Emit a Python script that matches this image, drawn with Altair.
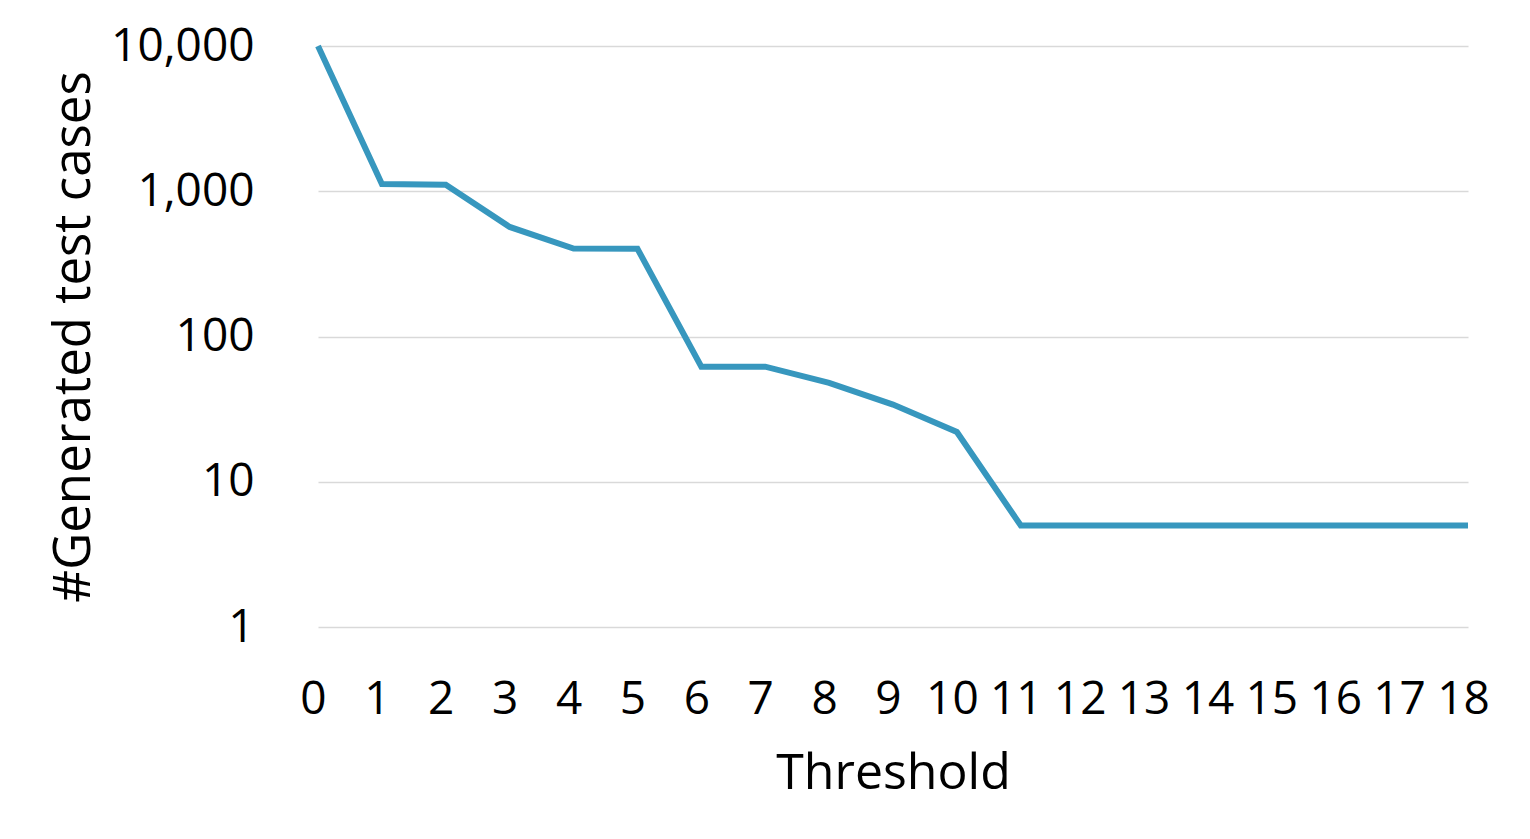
import altair as alt
import pandas as pd

thresholds = list(range(19))
test_cases = [10000, 1120, 1110, 568, 403, 402, 62, 62, 48, 34, 22, 5, 5, 5, 5, 5, 5, 5, 5]
y_ticks = [1, 10, 100, 1000, 10000]

df = pd.DataFrame({"Threshold": thresholds, "Cases": test_cases})

FONT = "Open Sans"

chart = alt.Chart(df).mark_line(color="#3797BE", strokeWidth=6, strokeJoin="miter", clip=False).encode(
    x=alt.X("Threshold:Q",
            scale=alt.Scale(domain=[0, 18], nice=False, zero=False),
            axis=alt.Axis(values=thresholds, title="Threshold", grid=False, domain=False, ticks=False,
                          labelFontSize=46, labelPadding=50, labelOffset=-5, titleFontSize=50, titlePadding=26,
                          labelFont=FONT, titleFont=FONT, titleFontWeight="normal",
                          labelColor="#000000", titleColor="#000000", labelFlush=False)),
    y=alt.Y("Cases:Q",
            scale=alt.Scale(type="log", domain=[1, 10000], nice=False),
            axis=alt.Axis(values=y_ticks, format=",", title="#Generated test cases",
                          grid=True, gridColor="#d9d9d9", gridWidth=1.5, domain=False, ticks=False,
                          labelFontSize=46, labelPadding=64, titleFontSize=51, titlePadding=18,
                          labelFont=FONT, titleFont=FONT, titleFontWeight="normal",
                          labelColor="#000000", titleColor="#000000")),
).properties(
    width=1150,
    height=581,
    autosize=alt.AutoSizeParams(type="none"),
    padding={"left": 310, "top": 38, "right": 50, "bottom": 200},
).configure_view(stroke=None)

chart.save("out.html", embed_options={"renderer": "svg", "actions": False})
